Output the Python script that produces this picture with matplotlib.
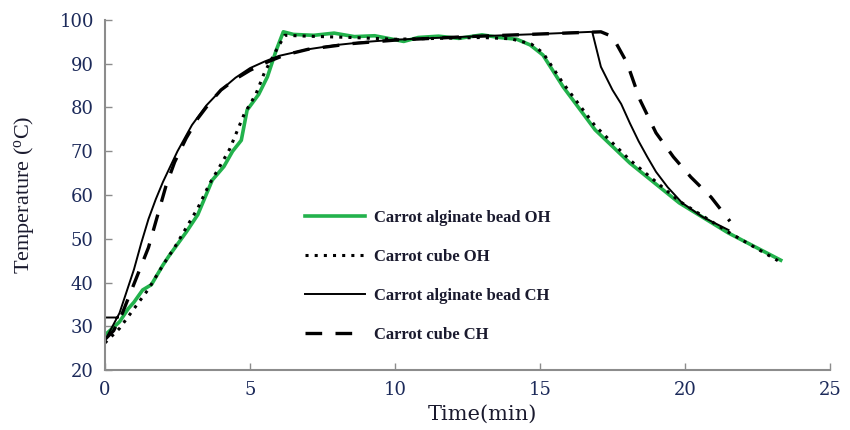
import numpy as np
from matplotlib import pyplot as plt

nan = np.nan

# Carrot alginate bead OH (green)
bead_oh_t = [0, 0.5, 0.8, 1.0, 1.3, 1.6, 2.0, 2.2, 2.8, 3.2, 3.7, 4.1, 4.4, 4.7, 4.9, 5.3, 5.6,
             5.9, 6.15, 6.5, 7.2, 7.9, 8.6, 9.3, 10.0, 10.3, 10.8, 11.5, 12.2, 13.0, 13.6,
             14.2, 14.66, 15.1, 15.8, 16.9, 18.1, 19.8, 21.5, 23.3]
bead_oh_T = [28, 31, 34, 35.5, 38.3, 39.5, 44, 46, 51.5, 55.5, 63.4, 66.5, 70, 72.5, 79.4, 83,
             87, 93, 97.3, 96.7, 96.5, 97.0, 96.2, 96.4, 95.5, 95.1, 96.0, 96.3, 95.8, 96.6,
             96.0, 95.6, 94.3, 92, 84.7, 74.9, 67.3, 58.2, 51.3, 45.1]

# Carrot cube OH (dotted)
cube_oh_t = [0, 0.5, 1.0, 1.5, 2.0, 2.4, 2.8, 3.2, 3.6, 4.0, 4.3, 4.8, 5.2, 5.5, 5.9, 6.2,
             7.0, 8.5, 10.0, 11.5, 13.0, 14.0, 14.7, 15.1, 15.8, 16.9, 18.1, 19.8, 21.5, 23.2]
cube_oh_T = [26.2, 29.5, 34, 38.5, 44, 48, 52.5, 57, 62.5, 67, 70.5, 78.5, 83, 88, 93, 96.5,
             96.3, 96.0, 95.6, 95.8, 96.0, 95.7, 94.5, 92.5, 85.5, 75.8, 68.0, 58.6, 51.5, 45.0]

# Carrot alginate bead CH (solid black)
bead_ch_t = [0, 0.45, nan, 0.1, 0.3, 0.5, 0.75, 1.0, 1.25, 1.5, 1.75, 2.0, 2.5, 3.0, 3.5,
             4.0, 4.5, 5.0, 5.5, 6.0, 7.0, 8.0, 9.0, 10.0, 12.5, 15.0, 16.8, 17.1, 17.5,
             17.8, 18.1, 18.4, 18.7, 19.0, 19.4, 19.9, 20.6, 21.5]
bead_ch_T = [32, 32, nan, 28, 30.5, 33, 38, 43, 49, 54.5, 59, 63, 70, 76, 80.5,
             84, 86.8, 89, 90.5, 91.8, 93.3, 94.3, 95.0, 95.5, 96.2, 96.8, 97.3, 89.3, 84.0,
             80.8, 76.4, 72.3, 68.7, 65.3, 61.8, 58.2, 55, 52]

# Carrot cube CH (dashed)
cube_ch_t = [0, 0.3, 0.6, 0.9, 1.2, 1.5, 1.8, 2.1, 2.4, 2.8, 3.2, 3.6, 4.0, 4.5, 5.0, 5.6,
             6.2, 7.0, 8.5, 10.0, 12.5, 15.0, 17.1, 17.5, 18.0, 18.45, 19.0, 19.6, 20.2,
             20.9, 21.55]
cube_ch_T = [27, 29, 33, 38, 43, 48, 55, 62, 67.5, 73, 77.5, 81, 84, 86.5, 88.5, 90.4,
             92, 93.3, 94.6, 95.4, 96.2, 96.8, 97.3, 96.2, 90.2, 81.7, 74.2, 68.7, 64.1,
             59.5, 54.0]

labels = ["Carrot alginate bead OH", "Carrot cube OH",
          "Carrot alginate bead CH", "Carrot cube CH"]

tick_color = "#1c2a5a"

fig = plt.figure(figsize=(8.5, 4.3), dpi=100)
ax = fig.add_axes([0.1235, 0.1395, 0.853, 0.814])

ax.plot(bead_oh_t, bead_oh_T, color="#22b24c", lw=2.6, label=labels[0])
ax.plot(cube_oh_t, cube_oh_T, color="black", lw=2.2, linestyle=(0, (1, 2)), label=labels[1])
ax.plot(bead_ch_t, bead_ch_T, color="black", lw=1.4, label=labels[2])
ax.plot(cube_ch_t, cube_ch_T, color="black", lw=2.4, linestyle=(0, (5, 4)), label=labels[3])

ax.set_xlim(0, 25)
ax.set_ylim(20, 100)
ax.set_xticks(range(0, 26, 5))
ax.set_yticks(range(20, 101, 10))

for side in ("top", "right"):
    ax.spines[side].set_visible(False)
for side in ("left", "bottom"):
    ax.spines[side].set_color("#8c8c8c")
    ax.spines[side].set_linewidth(1.5)

ax.tick_params(direction="in", length=5, width=1, color="#8c8c8c",
               labelsize=13, labelcolor=tick_color, pad=8)
for lab in ax.get_xticklabels() + ax.get_yticklabels():
    lab.set_family("DejaVu Serif")

ax.set_xlabel("Time(min)", family="DejaVu Serif", fontsize=15, color="#1a1a2e")
ax.xaxis.set_label_coords(0.52, -0.1)
ax.set_ylabel("Temperature ($\\mathregular{^{o}}$C)", family="Liberation Serif",
              fontsize=16, color="#1a1a2e")
ax.yaxis.set_label_coords(-0.095, 0.5)

leg = ax.legend(loc="upper left", bbox_to_anchor=(0.255, 0.5), frameon=False,
                handlelength=3.6, handletextpad=0.55, labelspacing=1.38,
                prop={"family": "Liberation Serif", "size": 12, "weight": "bold"})
for txt in leg.get_texts():
    txt.set_color("#1a1a2e")

fig.savefig("out.png", dpi=100)
